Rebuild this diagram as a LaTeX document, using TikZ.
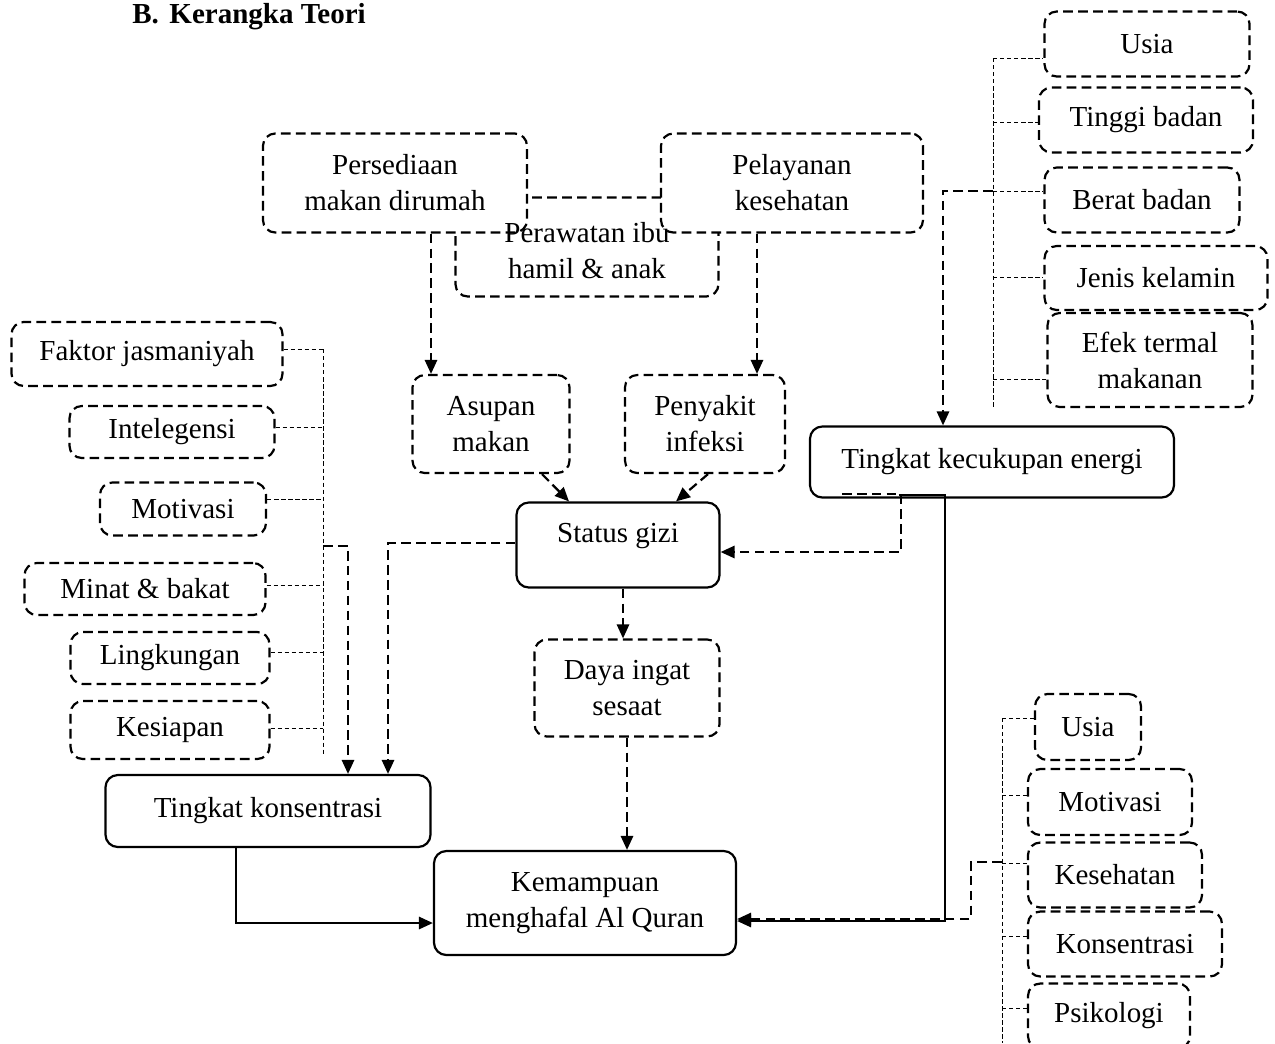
\documentclass[tikz,border=0pt]{standalone}
\usepackage{fontspec}
\setmainfont{Liberation Serif}
\usetikzlibrary{arrows.meta,calc}
\tikzset{
  softbox/.style={draw, line width=1.25pt, dash pattern=on 5.5pt off 3pt, rounded corners=7pt, align=center, inner sep=0pt},
  hardbox/.style={draw, line width=1.25pt, rounded corners=7pt, align=center, inner sep=0pt},
  dlink/.style={line width=1.25pt, dash pattern=on 5.5pt off 3pt, -{Triangle[length=8pt,width=7pt]}},
  slink/.style={line width=1.25pt, -{Triangle[length=8pt,width=7pt]}},
  tieline/.style={line width=0.55pt, dash pattern=on 2.5pt off 1.5pt}
}

\begin{document}
\begin{tikzpicture}[x=0.2mm,y=-0.2mm,font=\fontsize{16.5}{20.5}\selectfont]
    \useasboundingbox (0,0) rectangle (1275,1043);

    % judul
    \node[anchor=base west, inner sep=0pt, font=\fontsize{16.5}{20.5}\selectfont\bfseries] (judul) at (132,23) {B.\hspace{6pt}Kerangka Teori};

    % kolom kanan atas
    \node[softbox, minimum width=41mm, minimum height=13mm] (usiaA) at (1147,44) {Usia};
    \node[softbox, minimum width=42.8mm, minimum height=13mm] (tinggi) at (1146,120) {Tinggi badan};
    \node[softbox, minimum width=39mm, minimum height=13mm] (berat) at (1142,200) {Berat badan};
    \node[softbox, minimum width=44.6mm, minimum height=12.8mm] (jenis) at (1156,278) {Jenis kelamin};
    \node[softbox, minimum width=41mm, minimum height=18.8mm] (efek) at (1150,360) {Efek termal\\makanan};
    \node[hardbox, minimum width=72.8mm, minimum height=14.2mm] (energi) at (992,462) {Tingkat kecukupan energi};

    % faktor atas
    \node[softbox, minimum width=52.6mm, minimum height=19.8mm] (rawat) at (587,247) {};
    \node[softbox, fill=white, minimum width=52.8mm, minimum height=19.8mm] (sedia) at (395,183) {Persediaan\\makan dirumah};
    \node[softbox, fill=white, minimum width=52.4mm, minimum height=19.8mm] (layan) at (792,183) {Pelayanan\\kesehatan};
    \node[align=center, inner sep=0pt] (rawatteks) at (587,251) {Perawatan ibu\\hamil \& anak};

    \node[softbox, minimum width=31.4mm, minimum height=19.6mm] (asupan) at (491,424) {Asupan\\makan};
    \node[softbox, minimum width=32mm, minimum height=19.6mm] (infeksi) at (705,424) {Penyakit\\infeksi};
    \node[hardbox, minimum width=40.6mm, minimum height=17mm, text depth=14pt] (gizi) at (618,545) {Status gizi};
    \node[softbox, minimum width=37mm, minimum height=19.4mm] (daya) at (627,688) {Daya ingat\\sesaat};
    \node[hardbox, minimum width=60.4mm, minimum height=20.8mm] (quran) at (585,903) {Kemampuan\\menghafal Al Quran};

    % kolom kiri
    \node[softbox, minimum width=54.2mm, minimum height=12.8mm] (jasmani) at (147,354) {Faktor jasmaniyah};
    \node[softbox, minimum width=41mm, minimum height=10.4mm] (iq) at (172,432) {Intelegensi};
    \node[softbox, minimum width=33.2mm, minimum height=10.6mm] (motivA) at (183,509) {Motivasi};
    \node[softbox, minimum width=48.2mm, minimum height=10.4mm] (minat) at (145,589) {Minat \& bakat};
    \node[softbox, minimum width=39.8mm, minimum height=10.4mm] (lingkungan) at (170,658) {Lingkungan};
    \node[softbox, minimum width=39.8mm, minimum height=11.6mm] (siap) at (170,730) {Kesiapan};
    \node[hardbox, minimum width=65mm, minimum height=14.4mm] (fokus) at (268,811) {Tingkat konsentrasi};

    % kolom kanan bawah
    \node[softbox, minimum width=21.2mm, minimum height=13.2mm] (usiaB) at (1088,727) {Usia};
    \node[softbox, minimum width=32.8mm, minimum height=13.2mm] (motivB) at (1110,802) {Motivasi};
    \node[softbox, minimum width=34.8mm, minimum height=13mm] (sehat) at (1115,875) {Kesehatan};
    \node[softbox, minimum width=38.8mm, minimum height=13mm] (fokusB) at (1125,944) {Konsentrasi};
    \node[softbox, minimum width=32.4mm, minimum height=13mm] (psiko) at (1109,1016) {Psikologi};

    % garis pengelompokan
    \coordinate (sptA) at (993,191);
    \coordinate (sptB) at (1002,862);
    \coordinate (sptC) at (323,546);
    \draw[tieline] (993,58) -- (993,407);
    \foreach \n/\y in {usiaA/58,tinggi/122,berat/191,jenis/277,efek/379}
        \draw[tieline] (993,\y) -- (\n.west |- 0,\y);
    \draw[tieline] (323,349) -- (323,754);
    \foreach \n/\y in {jasmani/349,iq/427,motivA/499,minat/585,lingkungan/652,siap/728}
        \draw[tieline] (\n.east |- 0,\y) -- (323,\y);
    \draw[tieline] (1002,718) -- (1002,1043);
    \foreach \n/\y in {usiaB/718,motivB/795,sehat/863,fokusB/936,psiko/1008}
        \draw[tieline] (1002,\y) -- (\n.west |- 0,\y);

    % panah
    \draw[dlink] ($(sedia.south)+(36,0)$) -- ($(sedia.south |- asupan.north)+(36,0)$);
    \draw[dlink] ($(layan.south)+(-35,0)$) -- ($(layan.south |- infeksi.north)+(-35,0)$);
    \draw[dlink] ($(asupan.south)+(51,0)$) -- ($(gizi.north)+(-49,0)$);
    \draw[dlink] ($(infeksi.south)+(3,0)$) -- ($(gizi.north)+(58,0)$);
    \draw[dlink] ($(gizi.south)+(5,0)$) -- ($(gizi.south |- daya.north)+(5,0)$);
    \draw[dlink] (daya.south) -- (daya.south |- quran.north);
    \draw[dlink] (sptA) -| ($(energi.north)+(-49,0)$);
    \draw[dlink] ($(energi.south west)+(33,-5)$) -- ++(59,0) |- ($(gizi.east)+(0,7)$);
    \draw[slink] ($(energi.south west)+(90,-4)$) -- ++(46,0) |- ($(quran.east)+(0,18)$);
    \draw[dlink] (sptB) -- ++(-31,0) |- ($(quran.east)+(0,16)$);
    \draw[dlink] (sptC) -| ($(fokus.north)+(80,0)$);
    \draw[dlink] ($(gizi.west)+(0,-2)$) -| ($(fokus.north)+(120,0)$);
    \draw[slink] ($(fokus.south)+(-32,0)$) |- ($(quran.west)+(0,20)$);
\end{tikzpicture}
\end{document}
